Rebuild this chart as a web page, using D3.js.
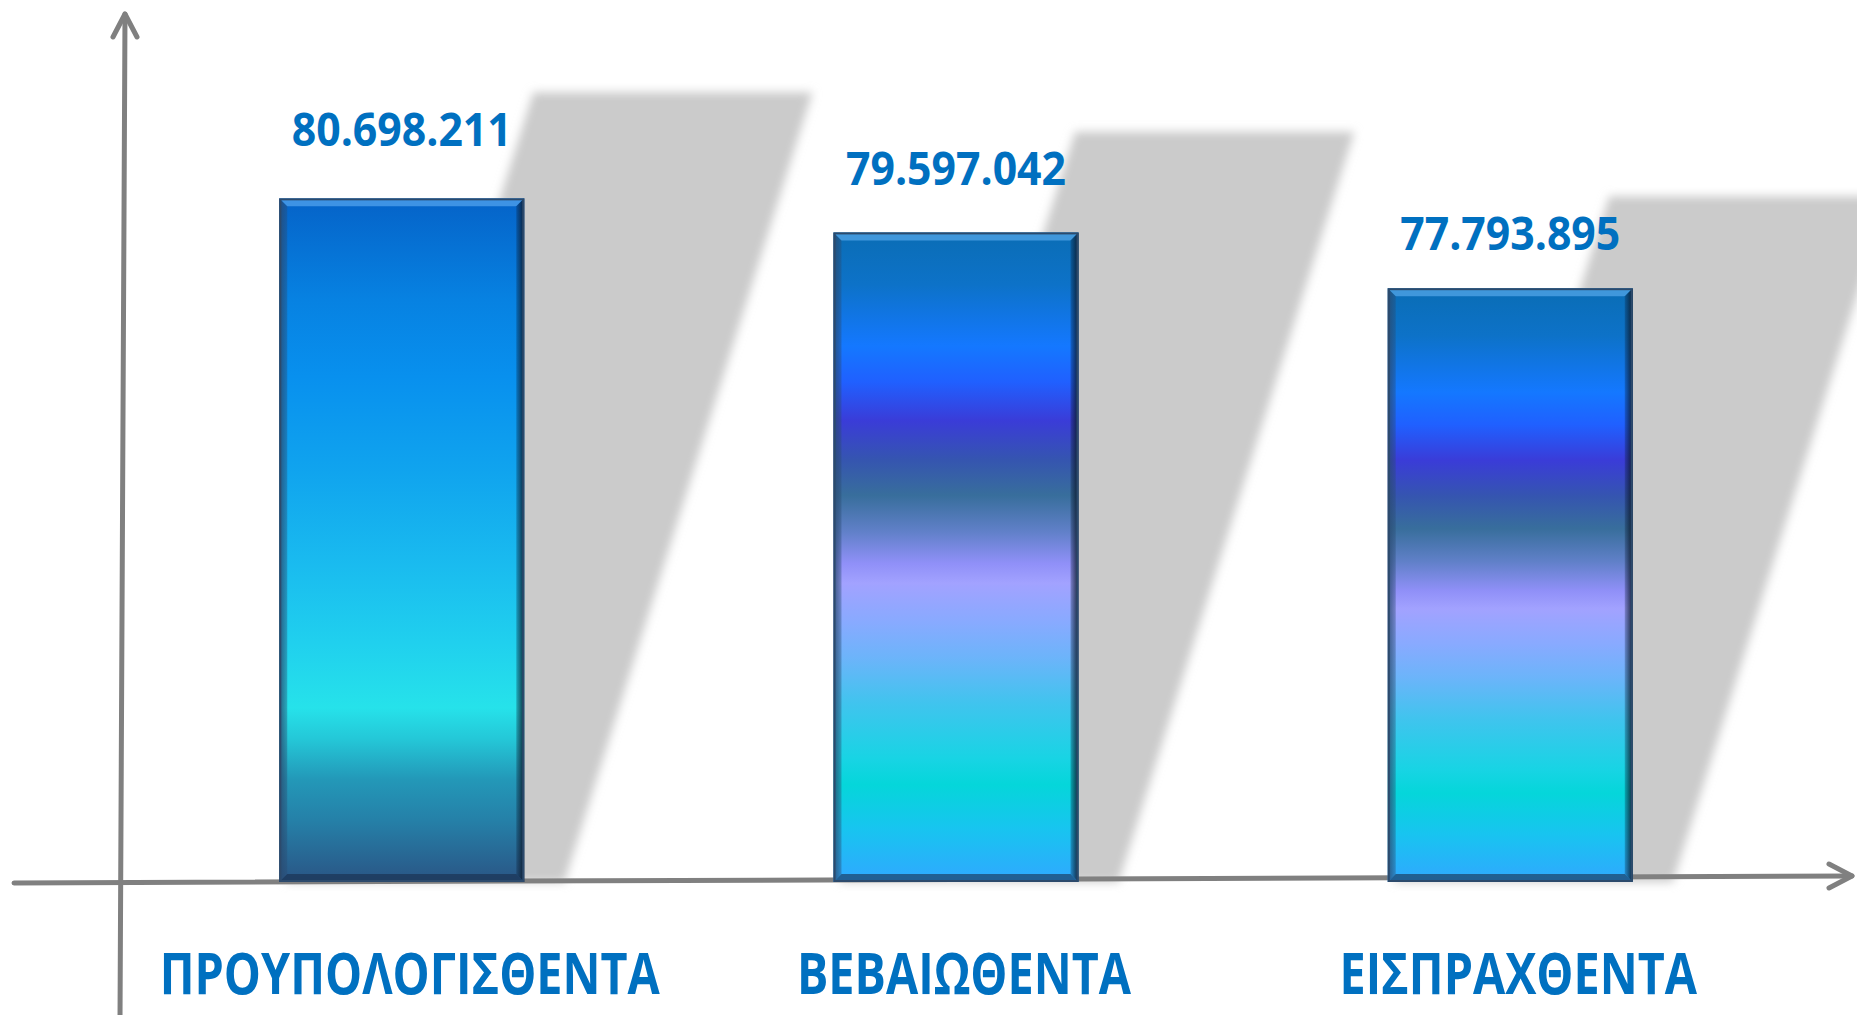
<!DOCTYPE html>
<html>
<head>
<meta charset="utf-8">
<script src="https://cdn.jsdelivr.net/npm/d3@7"></script>
<style>
  html, body { margin: 0; padding: 0; background: #ffffff; overflow: hidden; }
  svg { display: block; }
</style>
</head>
<body>
<svg id="chart" width="1857" height="1015"></svg>
<script>
// ---- data ----
const categories = ["ΠΡΟΥΠΟΛΟΓΙΣΘΕΝΤΑ", "ΒΕΒΑΙΩΘΕΝΤΑ", "ΕΙΣΠΡΑΧΘΕΝΤΑ"];
const values = [80698211, 79597042, 77793895];
const gradientOf = ["g0", "g1", "g1"];

// ---- styles ----
const gradStopsA = [
  [0.00, "#0563c8"], [0.15, "#0782e2"], [0.26, "#0890ee"], [0.40, "#10a4ee"],
  [0.54, "#1abcef"], [0.65, "#20d0ee"], [0.745, "#26e2ea"], [0.79, "#24c8d8"],
  [0.85, "#2398b8"], [0.91, "#2580a8"], [1.00, "#2a5585"]
];
const gradStopsB = [
  [0.00, "#0a6db5"], [0.08, "#0d72c8"], [0.175, "#1478ff"], [0.23, "#2060ff"],
  [0.29, "#3a3cd8"], [0.35, "#3555b0"], [0.405, "#386e9c"], [0.46, "#6080c8"],
  [0.51, "#9090f8"], [0.54, "#a2a2ff"], [0.60, "#88aaff"], [0.655, "#6cb4fa"],
  [0.725, "#40c4ee"], [0.81, "#18d4e4"], [0.85, "#05d6da"], [0.92, "#18c4f0"],
  [1.00, "#30a8ff"]
];
const labelColor = "#0070c0";
const axisColor = "#808080";

const svg = d3.select("#chart");
const defs = svg.append("defs");

function addGrad(id, stops) {
  const g = defs.append("linearGradient").attr("id", id)
    .attr("x1", 0).attr("y1", 0).attr("x2", 0).attr("y2", 1);
  g.selectAll("stop").data(stops).join("stop")
    .attr("offset", d => d[0]).attr("stop-color", d => d[1]);
}
addGrad("g0", gradStopsA);
addGrad("g1", gradStopsB);

const blur = defs.append("filter").attr("id", "soft")
  .attr("x", "-10%").attr("y", "-10%").attr("width", "120%").attr("height", "120%");
blur.append("feGaussianBlur").attr("stdDeviation", 5);

const rb = defs.append("linearGradient").attr("id", "rbevel")
  .attr("x1", 0).attr("y1", 0).attr("x2", 1).attr("y2", 0);
rb.append("stop").attr("offset", 0).attr("stop-color", "#0a1a30").attr("stop-opacity", 0.25);
rb.append("stop").attr("offset", 1).attr("stop-color", "#0a1626").attr("stop-opacity", 0.9);

const lb = defs.append("linearGradient").attr("id", "lbevel")
  .attr("x1", 0).attr("y1", 0).attr("x2", 1).attr("y2", 0);
lb.append("stop").attr("offset", 0).attr("stop-color", "#2a4a70").attr("stop-opacity", 0.85);
lb.append("stop").attr("offset", 1).attr("stop-color", "#2a4a70").attr("stop-opacity", 0.35);

// ---- scales ----
const x = d3.scaleBand().domain(categories).range([113, 1799])
  .paddingInner(0.558).paddingOuter(0.3);
const y = d3.scaleLinear().domain([58600000, 81000000]).range([882, 189]);
const labelY = d3.scaleLinear().domain(y.domain()).range([941, 135]);
const base = y(y.domain()[0]);

const fmt = d3.formatLocale({ decimal: ",", thousands: ".", grouping: [3], currency: ["", "€"] }).format(",d");

const rows = categories.map((c, i) => ({ c, v: values[i], g: gradientOf[i] }));

// ---- shadows ----
const shear = 0.314;
svg.append("g").selectAll("polygon").data(rows).join("polygon")
  .attr("fill", "#cbcbcb")
  .attr("filter", "url(#soft)")
  .attr("points", d => {
    const x0 = x(d.c) + 6, bw = x.bandwidth(), sw = bw * 1.14;
    const hs = (base - y(d.v)) * 1.155;
    const dx = shear * hs;
    return [[x0, base], [x0 + sw, base], [x0 + sw + dx, base - hs], [x0 + dx, base - hs]]
      .map(p => p.join(",")).join(" ");
  });

// ---- axes ----
const axes = svg.append("g").attr("stroke", axisColor).attr("stroke-width", 5)
  .attr("fill", "none").attr("stroke-linecap", "round").attr("stroke-linejoin", "round");
const xa0 = [14, base + 1], xa1 = [1852, base - 6];
axes.append("line").attr("x1", xa0[0]).attr("y1", xa0[1]).attr("x2", xa1[0]).attr("y2", xa1[1]);
axes.append("polyline").attr("points", `${xa1[0] - 23},${xa1[1] - 12} ${xa1[0]},${xa1[1]} ${xa1[0] - 23},${xa1[1] + 12}`);
const ya0 = [120, 1020], ya1 = [125, 14];
axes.append("line").attr("x1", ya0[0]).attr("y1", ya0[1]).attr("x2", ya1[0]).attr("y2", ya1[1]);
axes.append("polyline").attr("points", `${ya1[0] - 12},${ya1[1] + 23} ${ya1[0]},${ya1[1]} ${ya1[0] + 12},${ya1[1] + 23}`);

// ---- bars ----
const b = 8;
const bars = svg.append("g").selectAll("g").data(rows).join("g");
bars.append("rect")
  .attr("x", d => x(d.c)).attr("y", d => y(d.v))
  .attr("width", x.bandwidth()).attr("height", d => base - y(d.v))
  .attr("fill", d => `url(#${d.g})`);
function poly(sel, fill, fn) {
  sel.append("polygon").attr("fill", fill)
    .attr("points", d => fn(x(d.c), x(d.c) + x.bandwidth(), y(d.v)).map(p => p.join(",")).join(" "));
}
poly(bars, "url(#lbevel)", (x0, x1, t) => [[x0, t], [x0 + b, t + b], [x0 + b, base - b], [x0, base]]);
poly(bars, "rgba(110,185,250,0.55)", (x0, x1, t) => [[x0, t], [x1, t], [x1 - b, t + b], [x0 + b, t + b]]);
poly(bars, "url(#rbevel)", (x0, x1, t) => [[x1, t], [x1, base], [x1 - b, base - b], [x1 - b, t + b]]);
poly(bars, "rgba(25,45,75,0.6)", (x0, x1, t) => [[x0, base], [x1, base], [x1 - b, base - b], [x0 + b, base - b]]);
bars.append("rect")
  .attr("x", d => x(d.c) + 1).attr("y", d => y(d.v) + 1)
  .attr("width", x.bandwidth() - 2).attr("height", d => base - y(d.v) - 2)
  .attr("fill", "none").attr("stroke", "#2c4a6c").attr("stroke-width", 2);

// ---- value labels ----
svg.append("g").selectAll("text").data(rows).join("text")
  .attr("transform", d => `translate(${x(d.c) + x.bandwidth() / 2},${labelY(d.v)}) scale(0.93,1)`)
  .attr("text-anchor", "middle")
  .attr("font-family", "'Open Sans', sans-serif").attr("font-weight", 700)
  .attr("font-size", 46).attr("fill", labelColor)
  .text(d => fmt(d.v));

// ---- category labels ----
svg.append("g").selectAll("text").data(rows).join("text")
  .attr("transform", d => `translate(${x(d.c) + x.bandwidth() / 2 + 8},994) scale(0.82,1)`)
  .attr("text-anchor", "middle")
  .attr("font-family", "'Open Sans', sans-serif").attr("font-weight", 700)
  .attr("font-size", 57).attr("fill", labelColor)
  .text(d => d.c);
</script>
</body>
</html>
